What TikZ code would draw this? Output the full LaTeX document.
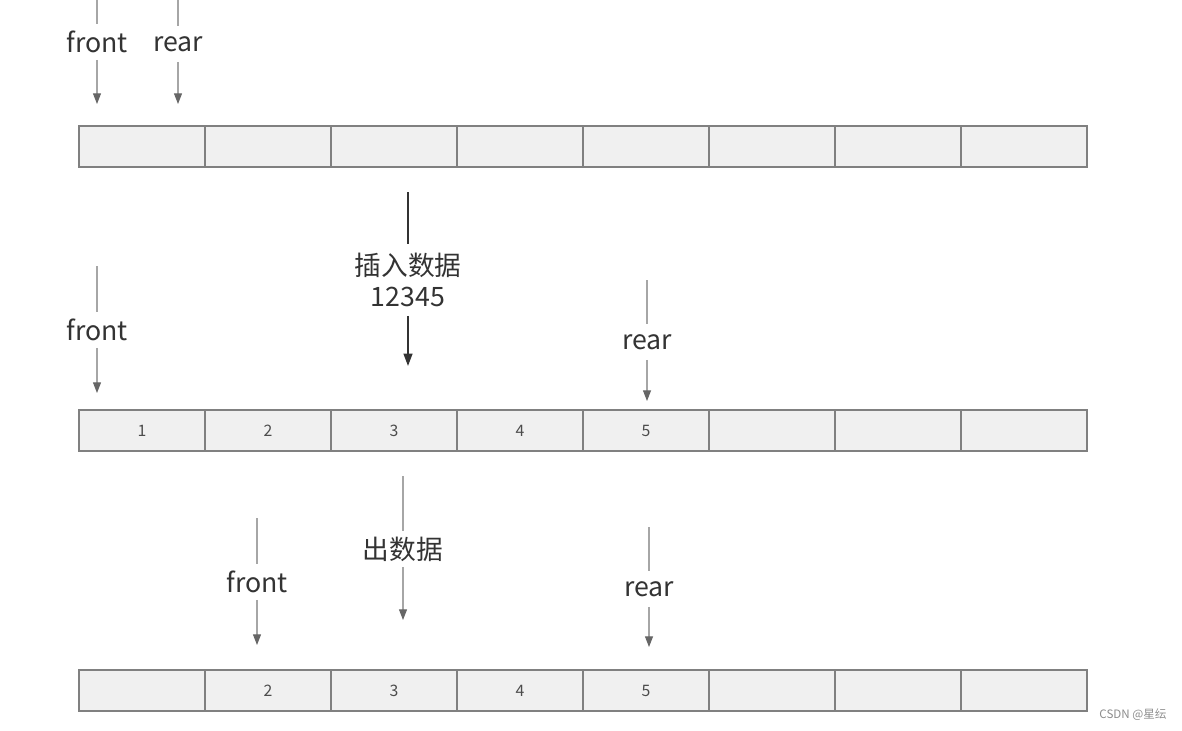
\documentclass[tikz,border=0pt]{standalone}
\usepackage{fontspec}
\setmainfont{Noto Sans CJK SC}
\usetikzlibrary{arrows.meta,positioning,calc}

\begin{document}
\begin{tikzpicture}[
    x=0.02cm, y=-0.02cm,
    cell/.style={rectangle, draw=black!50, fill=black!6, minimum width=2.52cm, minimum height=0.82cm, inner sep=0pt, line width=0.6pt, text=black!70, font=\fontsize{9}{10}\selectfont},
    lbl/.style={inner sep=1pt, minimum height=20pt, align=center, text=black!80, font=\fontsize{15.2}{17.5}\selectfont},
    ptr/.style={draw=black!35, line width=0.6pt},
    arrow/.style={ptr, -{Triangle[width=4.5pt, length=6pt, color=black!60]}},
    bold/.style={draw=black!80, line width=1pt, -{Triangle[width=5pt, length=7pt, color=black!80]}},
]
    \useasboundingbox (0,0) rectangle (1182,730);

    % Arrays
    \foreach \i in {0,...,7}
        \node[cell] (a\i) at ({142+126*\i},146.5) {};
    \foreach \i/\t in {0/1,1/2,2/3,3/4,4/5,5/{},6/{},7/{}}
        \node[cell] (b\i) at ({142+126*\i},430.5) {\t};
    \foreach \i/\t in {0/{},1/2,2/3,3/4,4/5,5/{},6/{},7/{}}
        \node[cell] (c\i) at ({142+126*\i},690.5) {\t};

    % Empty queue
    \node[lbl] (front1) at (97,42) {front};
    \node[lbl] (rear1) at (178,44) {rear};
    \coordinate (front1_top) at (97,0);
    \coordinate (front1_tip) at (97,104);
    \coordinate (rear1_top) at (178,0);
    \coordinate (rear1_tip) at (178,104);
    \draw[ptr] (front1_top) -- (front1);
    \draw[arrow] (front1) -- (front1_tip);
    \draw[ptr] (rear1_top) -- (rear1);
    \draw[arrow] (rear1) -- (rear1_tip);

    % Insert
    \node[lbl, inner ysep=5pt] (push) at (408,280) {插入数据\\12345};
    \coordinate (push_top) at (408,192);
    \coordinate (push_tip) at (408,366);
    \draw[bold, -] (push_top) -- (push);
    \draw[bold] (push) -- (push_tip);

    % After insert
    \node[lbl] (front2) at (97,330) {front};
    \node[lbl] (rear2) at (647,342) {rear};
    \coordinate (front2_top) at (97,266);
    \coordinate (front2_tip) at (97,393);
    \coordinate (rear2_top) at (647,280);
    \coordinate (rear2_tip) at (647,401);
    \draw[ptr] (front2_top) -- (front2);
    \draw[arrow] (front2) -- (front2_tip);
    \draw[ptr] (rear2_top) -- (rear2);
    \draw[arrow] (rear2) -- (rear2_tip);

    % Pop
    \node[lbl] (pop) at (403,549) {出数据};
    \coordinate (pop_top) at (403,476);
    \coordinate (pop_tip) at (403,620);
    \draw[ptr] (pop_top) -- (pop);
    \draw[arrow] (pop) -- (pop_tip);

    % After pop
    \node[lbl] (front3) at (257,582) {front};
    \node[lbl] (rear3) at (649,589) {rear};
    \coordinate (front3_top) at (257,518);
    \coordinate (front3_tip) at (257,645);
    \coordinate (rear3_top) at (649,527);
    \coordinate (rear3_tip) at (649,647);
    \draw[ptr] (front3_top) -- (front3);
    \draw[arrow] (front3) -- (front3_tip);
    \draw[ptr] (rear3_top) -- (rear3);
    \draw[arrow] (rear3) -- (rear3_tip);

    % Watermark
    \node[text=black!45, font=\fontsize{6.6}{7}\selectfont] (mark) at (1133,715) {CSDN @星纭};
\end{tikzpicture}
\end{document}
